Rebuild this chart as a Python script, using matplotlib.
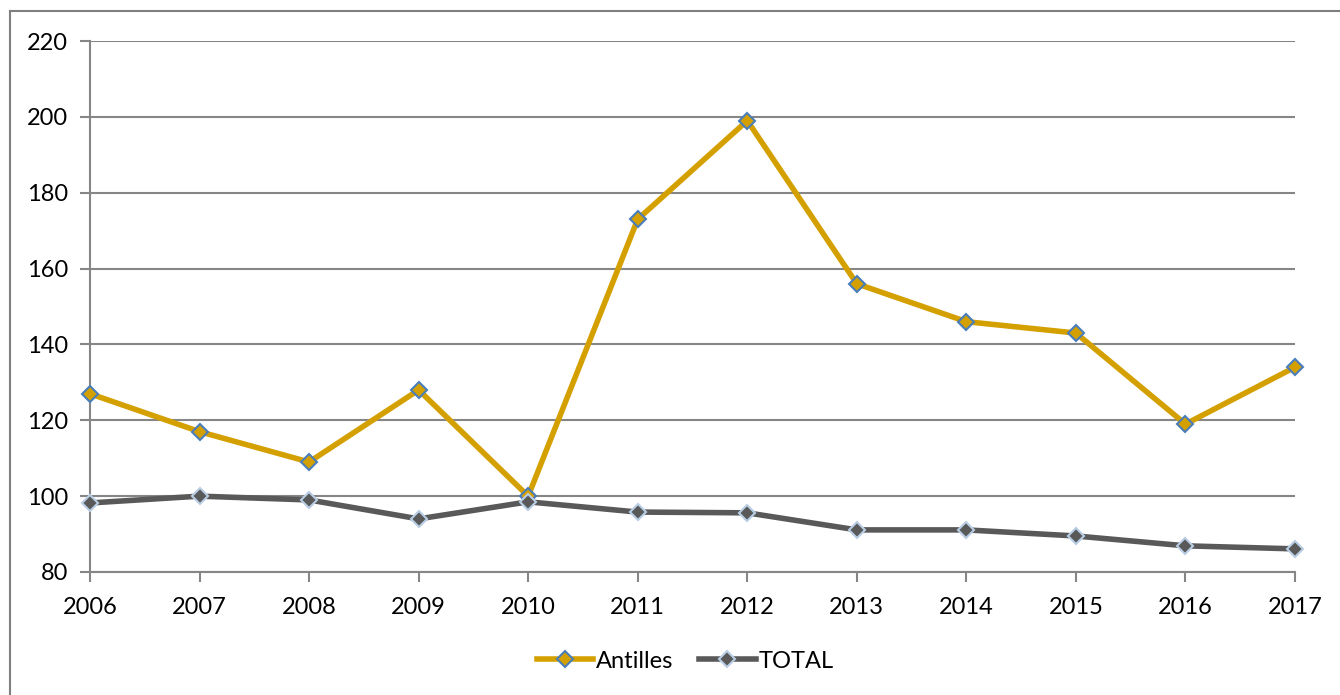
import matplotlib
matplotlib.use("Agg")
import matplotlib.pyplot as plt
from matplotlib.lines import Line2D

years = [2006, 2007, 2008, 2009, 2010, 2011, 2012, 2013, 2014, 2015, 2016, 2017]
antilles = [127, 117, 109, 128, 100, 173, 199, 156, 146, 143, 119, 134]
total = [98.2, 100, 99, 94, 98.5, 95.8, 95.6, 91.1, 91.1, 89.5, 86.9, 86.1]
yticks = [80, 100, 120, 140, 160, 180, 200, 220]

plt.rcParams['font.family'] = ['Lato', 'DejaVu Sans']

W, H = 1340, 695
fig = plt.figure(figsize=(W / 100, H / 100), dpi=100)
ax = fig.add_axes([90 / W, 1 - 572 / H, (1295 - 90) / W, (572 - 41) / H])

grid_c = '#868686'
ax.plot(years, antilles, color='#D4A000', lw=4, marker='D', ms=8,
        markerfacecolor='#D4A000', markeredgecolor='#4A7EBB', markeredgewidth=1.5,
        label='Antilles', zorder=3)
ax.plot(years, total, color='#595959', lw=4, marker='D', ms=8,
        markerfacecolor='#595959', markeredgecolor='#B9CDE5', markeredgewidth=1.5,
        label='TOTAL', zorder=3)

ax.set_xlim(years[0], years[-1])
ax.set_ylim(80, 220)
ax.set_yticks(yticks)
ax.set_xticks(years)
ax.set_xticklabels([str(y) for y in years])
ax.yaxis.grid(True, color=grid_c, lw=1.5)
ax.set_axisbelow(True)
for s in ['top', 'right']:
    ax.spines[s].set_visible(False)
for s in ['left', 'bottom']:
    ax.spines[s].set_color(grid_c)
    ax.spines[s].set_linewidth(1.5)
ax.tick_params(axis='both', colors=grid_c, length=7, width=1.5, labelcolor='black', labelsize=17)
ax.tick_params(axis='x', pad=11)
ax.tick_params(axis='y', pad=9)
for line in ax.get_lines():
    line.set_clip_on(False)

leg = fig.legend(loc='center', bbox_to_anchor=(0.5 + 15 / W, 1 - 661 / H), ncol=2, frameon=False,
                 fontsize=17, handlelength=2.4, columnspacing=1.1, handletextpad=0.1)

# outer border
fig.add_artist(Line2D([10 / W, 10 / W], [0, 1 - 11 / H], color='#7F7F7F', lw=1.5, transform=fig.transFigure))
fig.add_artist(Line2D([10 / W, 1], [1 - 11 / H, 1 - 11 / H], color='#7F7F7F', lw=1.5, transform=fig.transFigure))

fig.savefig('out.png', dpi=100)
